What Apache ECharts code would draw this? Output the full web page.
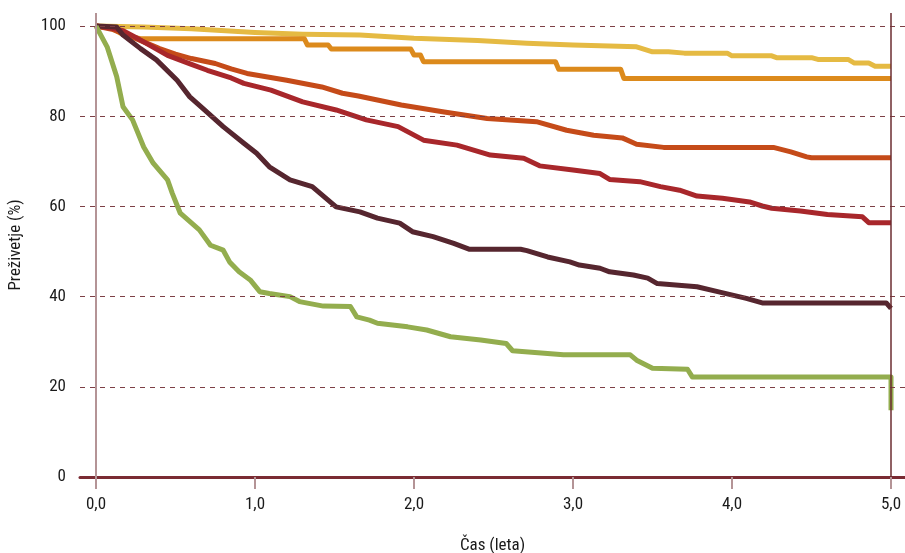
<!DOCTYPE html>
<html>
<head>
<meta charset="utf-8">
<script src="https://cdn.jsdelivr.net/npm/echarts@6/dist/echarts.min.js"></script>
<style>
html,body{margin:0;padding:0;background:#fff;}
#chart{width:905px;height:553px;}
</style>
</head>
<body>
<div id="chart"></div>
<script>
// Time ticks (years) and survival ticks (%)
const xTicks = [0, 1, 2, 3, 4, 5];
const yTicks = [0, 20, 40, 60, 80, 100];
const gridValues = [20, 40, 60, 80, 100];

// Kaplan-Meier curves: [time (years), survival %]
const curveYellow = [[0,100],[0.3,99.8],[0.6,99.4],[1.0,98.6],[1.3,98.2],[1.66,98],[2.0,97.3],[2.4,96.8],[2.71,96.2],[3.0,95.8],[3.4,95.4],[3.5,94.3],[3.6,94.3],[3.7,94.0],[3.97,94.0],[4.0,93.4],[4.25,93.4],[4.28,93.0],[4.5,93.0],[4.54,92.6],[4.73,92.6],[4.77,91.8],[4.86,91.8],[4.9,91.1],[5.0,91.1]];
const curveOrange = [[0,100],[0.1,99.5],[0.15,98.5],[0.2,97.8],[0.28,97.2],[1.31,97.2],[1.33,95.8],[1.46,95.8],[1.48,94.9],[1.98,94.9],[2.0,93.6],[2.04,93.6],[2.06,92.1],[2.89,92.1],[2.91,90.4],[3.3,90.4],[3.32,88.4],[5.0,88.4]];
const curveOrangeRed = [[0,100],[0.1,99.3],[0.2,98],[0.3,96.5],[0.4,95],[0.5,93.8],[0.6,92.8],[0.75,91.7],[0.85,90.5],[0.95,89.5],[1.2,88.0],[1.42,86.5],[1.55,85.1],[1.65,84.5],[1.92,82.5],[2.18,81.0],[2.46,79.5],[2.77,78.8],[2.96,76.9],[3.13,75.8],[3.31,75.2],[3.4,73.8],[3.57,73.1],[4.26,73.1],[4.37,72.1],[4.47,71.0],[4.5,70.8],[5.0,70.8]];
const curveRed = [[0,100],[0.1,99.5],[0.17,99],[0.25,97.5],[0.35,95.5],[0.45,93.5],[0.6,91.5],[0.7,90.2],[0.85,88.5],[0.93,87.3],[1.1,85.8],[1.3,83.2],[1.51,81.4],[1.7,79.2],[1.9,77.7],[2.06,74.7],[2.27,73.6],[2.48,71.4],[2.69,70.7],[2.79,69.0],[3.0,68.1],[3.17,67.3],[3.23,66.0],[3.42,65.5],[3.55,64.4],[3.67,63.6],[3.78,62.3],[3.94,61.8],[4.11,61.0],[4.19,60.1],[4.25,59.6],[4.43,59.0],[4.6,58.2],[4.82,57.7],[4.86,56.4],[5.0,56.4]];
const curveMaroon = [[0,100],[0.13,99.8],[0.17,98],[0.28,95.0],[0.38,92.5],[0.51,88],[0.59,84.3],[0.67,81.8],[0.8,77.7],[0.93,74.0],[1.01,71.8],[1.09,68.8],[1.22,65.9],[1.36,64.4],[1.51,59.9],[1.66,58.8],[1.77,57.4],[1.91,56.3],[1.99,54.4],[2.12,53.3],[2.25,51.8],[2.35,50.5],[2.67,50.5],[2.71,50.2],[2.84,48.8],[2.98,47.7],[3.04,47.0],[3.17,46.3],[3.23,45.5],[3.38,44.8],[3.47,44.1],[3.53,42.9],[3.78,42.2],[3.91,41.1],[4.09,39.6],[4.19,38.6],[4.97,38.6],[5.0,37.4]];
const curveGreen = [[0,100],[0.01,99.8],[0.07,95.4],[0.13,88.8],[0.17,82.1],[0.23,79.2],[0.3,73.2],[0.36,69.6],[0.45,65.9],[0.48,62.9],[0.53,58.5],[0.65,54.8],[0.72,51.4],[0.8,50.3],[0.84,47.7],[0.9,45.5],[0.97,43.7],[1.03,41.1],[1.09,40.7],[1.22,40.0],[1.28,38.9],[1.43,37.9],[1.6,37.8],[1.64,35.5],[1.72,34.8],[1.77,34.1],[1.96,33.3],[2.08,32.6],[2.23,31.1],[2.42,30.4],[2.58,29.6],[2.62,28.0],[2.94,27.1],[3.36,27.1],[3.4,25.9],[3.5,24.1],[3.72,23.9],[3.75,22.2],[5.0,22.2],[5.0,14.8]];

const seriesNames = ['A', 'B', 'C', 'D', 'E', 'F'];
const seriesColors = ['#E5BA43', '#DC8A1C', '#C54B19', '#A8272B', '#56262F', '#93AD4E'];
const seriesData = [curveYellow, curveOrange, curveOrangeRed, curveRed, curveMaroon, curveGreen];

const fontFam = "'Liberation Sans Narrow', 'Roboto Condensed', 'DejaVu Sans Condensed', Roboto, sans-serif";

const chart = echarts.init(document.getElementById('chart'), null, {renderer: 'canvas'});

const series = [{
  type: 'line',
  data: [],
  z: 1,
  silent: true,
  markLine: {
    silent: true,
    symbol: 'none',
    label: {show: false},
    animation: false,
    data: gridValues.map(v => ({yAxis: v, lineStyle: {type: [5, 5], color: '#7D3F45', width: 1}}))
      .concat([
        {xAxis: 0, lineStyle: {type: 'solid', color: '#B49496', width: 2}},
        {xAxis: 5, lineStyle: {type: 'solid', color: '#6B2C31', width: 1.5}}
      ])
  }
}];
seriesData.forEach((d, i) => {
  series.push({
    name: seriesNames[i],
    type: 'line',
    data: d,
    showSymbol: false,
    symbol: 'none',
    z: 3,
    lineStyle: {color: seriesColors[i], width: 5, join: 'round', cap: 'butt'},
    itemStyle: {color: seriesColors[i]}
  });
});

chart.setOption({
  animation: false,
  grid: {left: 80, right: 0, top: 13, bottom: 76, containLabel: false, outerBoundsMode: 'none'},
  xAxis: {
    type: 'value',
    min: -0.1006,
    max: 5.088,
    name: 'Čas (leta)',
    nameLocation: 'middle',
    nameGap: 60,
    nameTextStyle: {fontFamily: fontFam, fontSize: 17, color: '#1a1a1a'},
    axisLine: {show: true, onZero: false, lineStyle: {color: '#7A2B33', width: 3}},
    axisTick: {show: true, customValues: xTicks, length: 12, lineStyle: {color: '#B49496', width: 2}},
    axisLabel: {
      customValues: xTicks, margin: 19, fontFamily: fontFam, fontSize: 17, color: '#1a1a1a',
      formatter: v => v.toFixed(1).replace('.', ',')
    },
    splitLine: {show: false}
  },
  yAxis: {
    type: 'value',
    min: 0,
    max: 102.9,
    name: 'Preživetje (%)',
    nameLocation: 'middle',
    nameGap: 56,
    nameRotate: 90,
    nameTextStyle: {fontFamily: fontFam, fontSize: 17, color: '#1a1a1a'},
    axisLine: {show: false},
    axisTick: {show: false},
    axisLabel: {
      customValues: yTicks, margin: 14, fontFamily: fontFam, fontSize: 17, color: '#1a1a1a'
    },
    splitLine: {show: false}
  },
  series: series
});
</script>
</body>
</html>
